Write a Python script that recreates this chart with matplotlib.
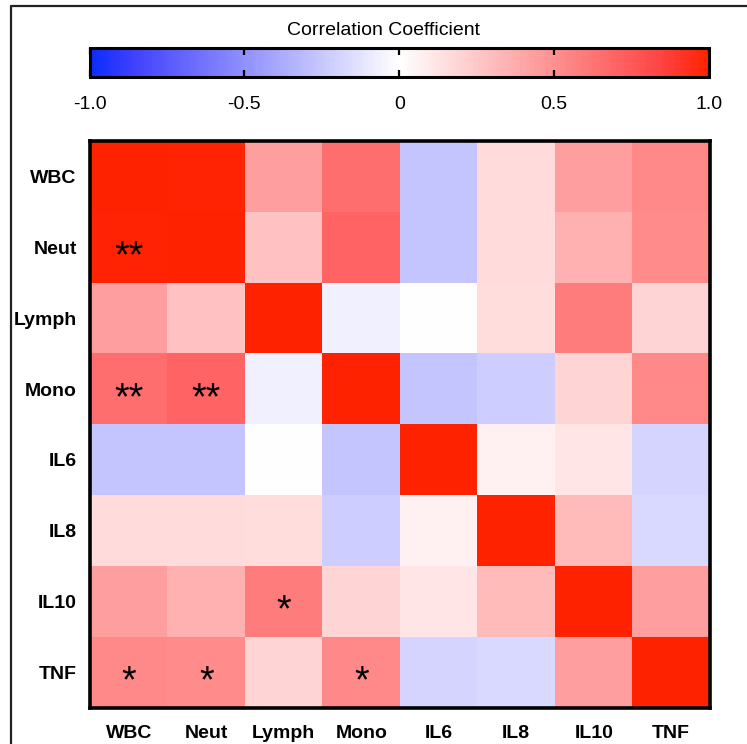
import numpy as np
import matplotlib
matplotlib.use("Agg")
import matplotlib.pyplot as plt
from matplotlib.colors import LinearSegmentedColormap, Normalize
from matplotlib.cm import ScalarMappable
from matplotlib.lines import Line2D
from matplotlib import transforms

plt.rcParams["font.family"] = ["Liberation Sans", "DejaVu Sans"]

# Variables (rows top-to-bottom, columns left-to-right)
labels = ["WBC", "Neut", "Lymph", "Mono", "IL6", "IL8", "IL10", "TNF"]

# Pearson correlation coefficients
corr = np.array([
    [1.00, 0.99, 0.43, 0.65, -0.26, 0.16, 0.43, 0.53],
    [0.99, 1.00, 0.28, 0.70, -0.26, 0.16, 0.35, 0.52],
    [0.43, 0.28, 1.00, -0.07, 0.00, 0.15, 0.59, 0.19],
    [0.65, 0.70, -0.07, 1.00, -0.26, -0.22, 0.19, 0.53],
    [-0.26, -0.26, 0.00, -0.26, 1.00, 0.06, 0.11, -0.19],
    [0.16, 0.16, 0.15, -0.22, 0.06, 1.00, 0.31, -0.17],
    [0.43, 0.35, 0.59, 0.19, 0.11, 0.31, 1.00, 0.43],
    [0.53, 0.52, 0.19, 0.53, -0.19, -0.17, 0.43, 1.00],
])

# Significance markers: (row, column, stars)
sig_marks = [
    (1, 0, "**"),
    (3, 0, "**"),
    (3, 1, "**"),
    (6, 2, "*"),
    (7, 0, "*"),
    (7, 1, "*"),
    (7, 3, "*"),
]

cbar_ticks = [-1.0, -0.5, 0.0, 0.5, 1.0]
cbar_ticklabels = ["-1.0", "-0.5", "0", "0.5", "1.0"]
cbar_title = "Correlation Coefficient"

W, H = 747, 744
fig = plt.figure(figsize=(W / 100, H / 100), dpi=100)


def px_axes(x0, y0, x1, y1):
    """Axes placed by pixel box (origin top-left)."""
    return fig.add_axes([x0 / W, 1 - y1 / H, (x1 - x0) / W, (y1 - y0) / H])


# Blue - white - red scale: pastel tints through most of the range,
# saturating to pure blue / scarlet at the ends
cmap = LinearSegmentedColormap.from_list(
    "prism_bwr",
    [
        (0.000, "#0A2CFF"),
        (0.075, "#4343FF"),
        (0.500, "#FFFFFF"),
        (0.925, "#FF4343"),
        (1.000, "#FF2200"),
    ],
)
norm = Normalize(vmin=-1, vmax=1)

# Heatmap
ax = px_axes(90, 141, 710, 708)
n = len(labels)
ax.imshow(corr, cmap=cmap, norm=norm, aspect="auto", interpolation="nearest",
          extent=(-0.5, n - 0.5, n - 0.5, -0.5))
ax.set_xlim(-0.5, n - 0.5)
ax.set_ylim(n - 0.5, -0.5)
ax.set_xticks(range(n))
ax.set_yticks(range(n))
ax.set_xticklabels(labels, fontsize=14, fontweight="bold")
ax.set_yticklabels(labels, fontsize=14, fontweight="bold")
ax.tick_params(length=0)
ax.xaxis.set_tick_params(pad=12)
ax.yaxis.set_tick_params(pad=9.5)
for sp in ax.spines.values():
    sp.set_linewidth(2.6)
    sp.set_color("black")

star_size = 27
star_tr = transforms.offset_copy(ax.transData, fig=fig, x=0,
                                 y=-0.53 * star_size, units="points")
for r, c, s in sig_marks:
    ax.text(c, r, s, transform=star_tr, ha="center", va="baseline",
            fontsize=star_size, color="black")

# Colour bar
cax = px_axes(89.5, 47.5, 709, 77)
cb = fig.colorbar(ScalarMappable(norm=norm, cmap=cmap), cax=cax,
                  orientation="horizontal")
cb.set_ticks(cbar_ticks)
cb.set_ticklabels(cbar_ticklabels)
cb.outline.set_linewidth(2.2)
cax.tick_params(axis="x", direction="in", top=True, bottom=True, length=5,
                width=1.6, labelsize=14, pad=14)
fig.text(383 / W, 1 - 35 / H, cbar_title, ha="center", va="baseline",
         fontsize=14)

# Outer frame (top and left edges)
fig.add_artist(Line2D([10.7 / W, 10.7 / W, 1.02], [-0.02, 1 - 6 / H, 1 - 6 / H],
                      transform=fig.transFigure, color="#222222", lw=1.6))

fig.savefig("out.png", dpi=100)
